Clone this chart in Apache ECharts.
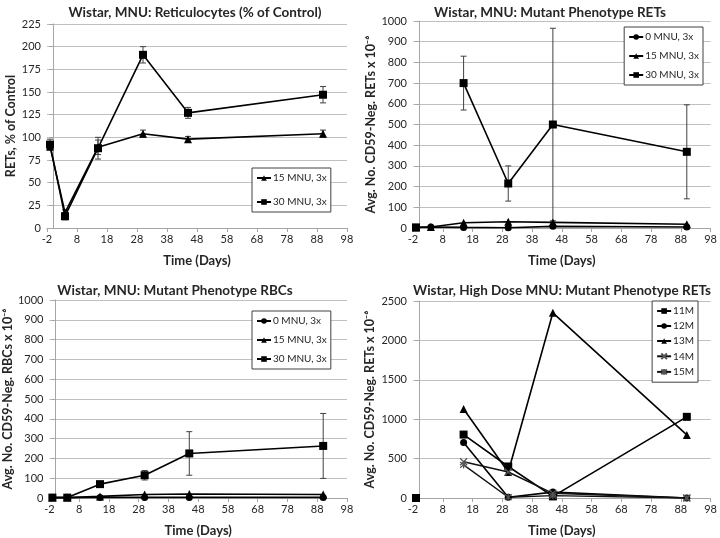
<!DOCTYPE html>
<html><head><meta charset="utf-8">
<script src="https://cdn.jsdelivr.net/npm/echarts@6/dist/echarts.min.js"></script>
<style>html,body{margin:0;padding:0;background:#fff}#c{width:720px;height:538px}</style>
</head><body><div id="c"></div>
<script>
// ---- data ----
const days = [-1, 4, 15, 30, 45, 90];
const xTicks = [-2, 8, 18, 28, 38, 48, 58, 68, 78, 88, 98];

// Panel 1: Reticulocytes (% of Control)
const ret15 = [90, 17, 89, 104, 98, 104];
const ret15Err = [4, 3, 8, 4, 3, 4];
const ret30 = [92, 13, 88, 191, 127, 147];
const ret30Err = [6, 4, 12, 9, 6, 9];

// Panel 2: Mutant phenotype RETs
const mut0 = [3, 5, 3, 1, 8, 5];
const mut15 = [3, 5, 25, 30, 27, 18];
const mut30 = [3, '-', 700, 215, 500, 368];
const mut30Err = [0, 0, 130, 85, 465, 227];

// Panel 3: Mutant phenotype RBCs
const rbc0 = [2, 2, 3, 3, 3, 3];
const rbc15 = [2, 2, 8, 18, 20, 18];
const rbc30 = [2, 2, 70, 115, 225, 263];
const rbc30Err = [0, 0, 4, 24, 110, 164];

// Panel 4: High dose MNU, individual animals
const m11 = [0, '-', 805, 400, 20, 1030];
const m12 = ['-', '-', 705, 10, 75, 0];
const m13 = ['-', '-', 1130, 330, 2350, 800];
const m14 = ['-', '-', 460, 330, 60, 0];
const m15 = ['-', '-', 420, 10, 30, 0];

// ---- helpers ----
const FONT = 'Lato';
const TXT = '#262626';
const pts = v => days.map((d, i) => [d, v[i]]);
function errData(v, e) {
  const out = [];
  days.forEach((d, i) => {
    if (v[i] !== '-' && e[i]) out.push([d, Math.max(0, v[i] - e[i]), v[i] + e[i]]);
  });
  return out;
}
function errSeries(idx, v, e) {
  return {
    type: 'custom', xAxisIndex: idx, yAxisIndex: idx, z: 1, silent: true,
    data: errData(v, e), encode: { x: 0, y: [1, 2] },
    renderItem: (params, api) => {
      const x = api.value(0);
      const lo = api.coord([x, api.value(1)]);
      const hi = api.coord([x, api.value(2)]);
      const w = 3, st = { stroke: '#404040', lineWidth: 1 };
      return { type: 'group', children: [
        { type: 'line', shape: { x1: lo[0], y1: lo[1], x2: hi[0], y2: hi[1] }, style: st },
        { type: 'line', shape: { x1: lo[0] - w, y1: lo[1], x2: lo[0] + w, y2: lo[1] }, style: st },
        { type: 'line', shape: { x1: hi[0] - w, y1: hi[1], x2: hi[0] + w, y2: hi[1] }, style: st }
      ]};
    }
  };
}
function lineSeries(idx, name, v, symbol, size, opts) {
  return Object.assign({
    type: 'line', name, xAxisIndex: idx, yAxisIndex: idx, data: pts(v),
    symbol, symbolSize: size, showSymbol: true, z: 3,
    lineStyle: { color: '#000', width: 1.6 },
    itemStyle: { color: '#000' }
  }, opts || {});
}
const CROSS = 'path://M0,0L10,10M10,0L0,10';
const STAR = 'path://M0,0L10,10M10,0L0,10M5,-1L5,11';

function xAxis(idx) {
  return {
    type: 'value', gridIndex: idx, min: -2, max: 98, interval: 10,
    name: 'Time (Days)', nameLocation: 'middle', nameGap: 26,
    nameTextStyle: { fontFamily: FONT, fontWeight: 'bold', fontSize: 13, color: TXT },
    axisLine: { onZero: false, lineStyle: { color: '#a6a6a6' } },
    axisTick: { show: true, length: 4, lineStyle: { color: '#a6a6a6' } },
    axisLabel: { fontFamily: FONT, fontSize: 11, color: TXT, margin: 6 },
    splitLine: { show: false }
  };
}
function yAxis(idx, max, interval, name, gap) {
  return {
    type: 'value', gridIndex: idx, min: 0, max, interval,
    name, nameLocation: 'middle', nameGap: gap, nameRotate: 90,
    nameTextStyle: { fontFamily: FONT, fontWeight: 'bold', fontSize: 12.5, color: TXT },
    axisLine: { show: true, lineStyle: { color: '#a6a6a6' } },
    axisTick: { show: true, length: 4, lineStyle: { color: '#a6a6a6' } },
    axisLabel: { fontFamily: FONT, fontSize: 11, color: TXT, margin: 6, formatter: v => String(v) },
    splitLine: { show: true, lineStyle: { color: '#c0c0c0', width: 1 } }
  };
}
function legend(names, pos) {
  return Object.assign({
    data: names, orient: 'vertical',
    backgroundColor: '#fff', borderColor: '#404040', borderWidth: 1,
    padding: [5, 4, 5, 4], itemGap: 9, itemWidth: 14, itemHeight: 7,
    textStyle: { fontFamily: FONT, fontSize: 10, color: TXT, padding: [0, 0, 0, -3] },
    selectedMode: false
  }, pos);
}
const titleStyle = { fontFamily: FONT, fontWeight: 'bold', fontSize: 13.5, color: TXT };
const yName = 'Avg. No. CD59-Neg. RETs x 10\u207B\u2076';
const yNameRBC = 'Avg. No. CD59-Neg. RBCs x 10\u207B\u2076';

const option = {
  animation: false,
  backgroundColor: '#fff',
  title: [
    { text: 'Wistar, MNU: Reticulocytes (% of Control)', left: 190, top: 1, textAlign: 'center', textStyle: titleStyle },
    { text: 'Wistar, MNU: Mutant Phenotype RETs', left: 545, top: 1, textAlign: 'center', textStyle: titleStyle },
    { text: 'Wistar, MNU: Mutant Phenotype RBCs', left: 170, top: 279, textAlign: 'center', textStyle: titleStyle },
    { text: 'Wistar, High Dose MNU: Mutant Phenotype RETs', left: 557, top: 279, textAlign: 'center', textStyle: titleStyle }
  ],
  grid: [
    { left: 47, right: 373, top: 24, bottom: 310 },
    { left: 413, right: 7, top: 21, bottom: 310 },
    { left: 47, right: 373, top: 300, bottom: 34 },
    { left: 413, right: 8, top: 301, bottom: 34 }
  ],
  xAxis: [xAxis(0), xAxis(1), xAxis(2), xAxis(3)],
  yAxis: [
    yAxis(0, 225, 25, 'RETs, % of Control', 30),
    yAxis(1, 1000, 100, yName, 33),
    yAxis(2, 1000, 100, yNameRBC, 33),
    yAxis(3, 2500, 500, yName, 37)
  ],
  legend: [
    legend(['15 MNU, 3x', '30 MNU, 3x'], { left: 252, top: 168, itemGap: 14 }),
    legend(['0 MNU, 3x', '15 MNU, 3x', '30 MNU, 3x'], { right: 17, top: 27 }),
    legend(['0 MNU, 3x', '15 MNU, 3x', '30 MNU, 3x'], { left: 252, top: 311 }),
    legend(['11M', '12M', '13M', '14M', '15M'], { right: 22, top: 301, itemGap: 5 })
  ],
  series: [
    errSeries(0, ret15, ret15Err),
    errSeries(0, ret30, ret30Err),
    lineSeries(0, '15 MNU, 3x', ret15, 'triangle', 8),
    lineSeries(0, '30 MNU, 3x', ret30, 'rect', 8),

    errSeries(1, mut30, mut30Err),
    lineSeries(1, '0 MNU, 3x', mut0, 'circle', 7),
    lineSeries(1, '15 MNU, 3x', mut15, 'triangle', 8),
    lineSeries(1, '30 MNU, 3x', mut30, 'rect', 8),

    errSeries(2, rbc30, rbc30Err),
    lineSeries(2, '0 MNU, 3x', rbc0, 'circle', 7),
    lineSeries(2, '15 MNU, 3x', rbc15, 'triangle', 8),
    lineSeries(2, '30 MNU, 3x', rbc30, 'rect', 8),

    lineSeries(3, '11M', m11, 'rect', 8),
    lineSeries(3, '12M', m12, 'circle', 7),
    lineSeries(3, '13M', m13, 'triangle', 8),
    lineSeries(3, '14M', m14, CROSS, 7, { lineStyle: { color: '#111', width: 1.4 }, itemStyle: { color: 'none', borderColor: '#555', borderWidth: 1.2 } }),
    lineSeries(3, '15M', m15, STAR, 7, { lineStyle: { color: '#111', width: 1.4 }, itemStyle: { color: 'none', borderColor: '#555', borderWidth: 1.2 } })
  ]
};
const chart = echarts.init(document.getElementById('c'), null, { renderer: 'canvas' });
chart.setOption(option);
</script></body></html>
